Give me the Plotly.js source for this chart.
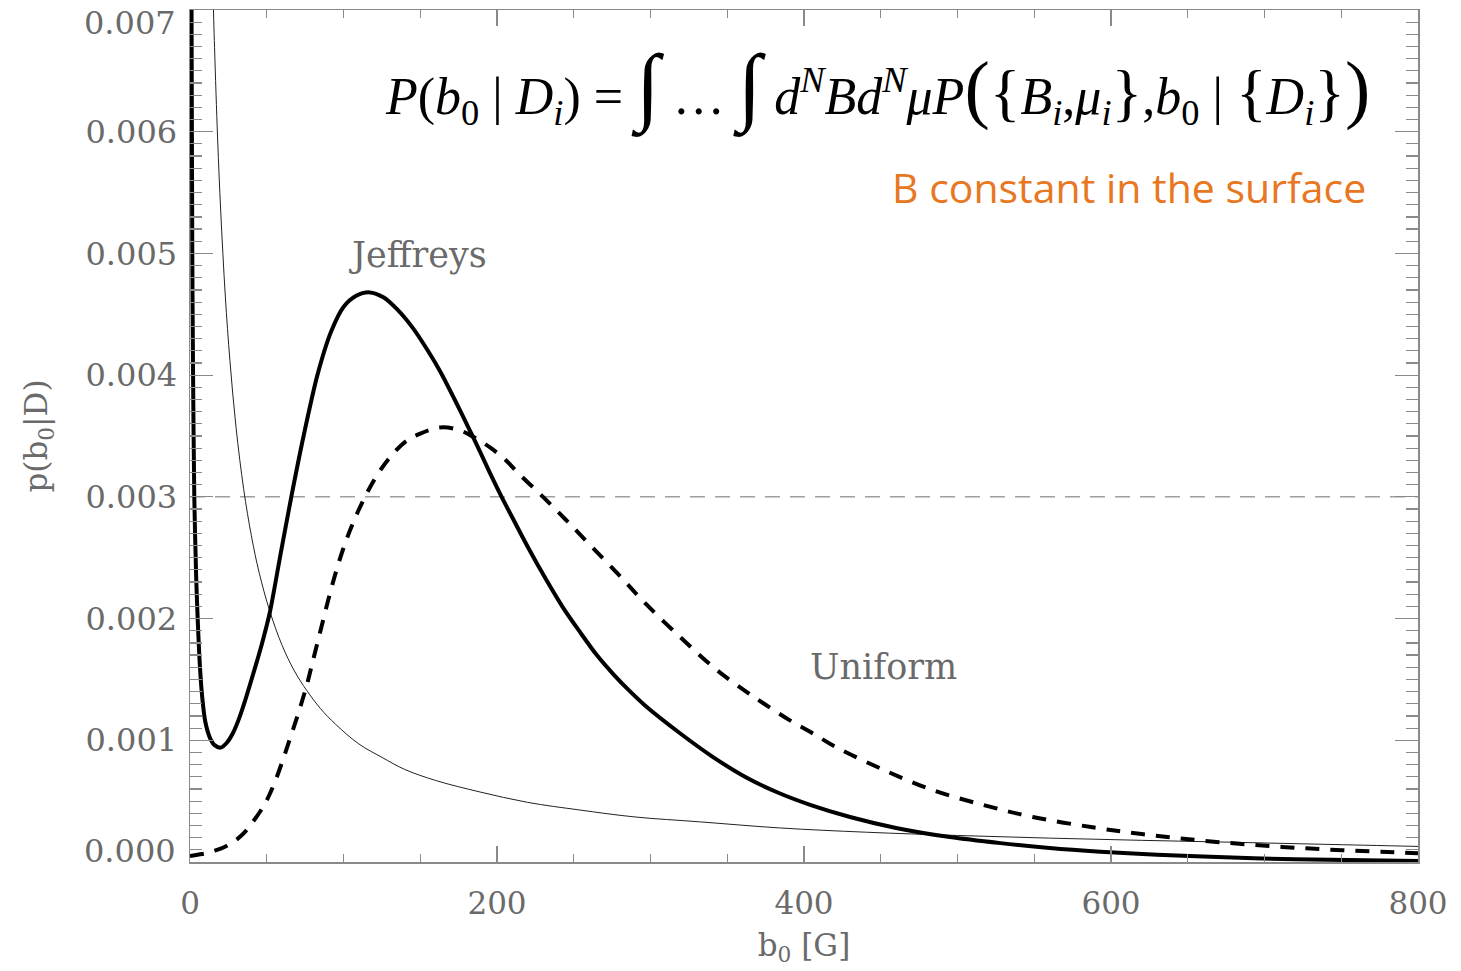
<!DOCTYPE html>
<html>
<head>
<meta charset="utf-8">
<script src="https://cdn.plot.ly/plotly-3.0.1.min.js"></script>
<style>html,body{margin:0;padding:0;background:#fff;}#chart{width:1461px;height:971px;}</style>
</head>
<body>
<div id="chart"></div>
<script>
// Jeffreys-prior posterior (thick solid)
const jeffX = [0.5, 1, 1.5, 2, 2.8, 4, 5, 6.5, 8, 10, 13, 16, 20, 24, 28, 32, 36, 42, 47, 52, 59, 66, 74, 83, 92, 100, 108, 117, 126, 135, 145, 155, 163, 172, 181, 189, 196, 203, 210, 220, 232, 243, 254, 265, 276, 286, 297, 319, 341, 363, 384, 404, 430, 460, 495, 528, 560, 593, 630, 660, 720, 800];
const jeffY = [0.0090, 0.0070, 0.0050, 0.0040, 0.0030, 0.00235, 0.0020, 0.0016, 0.00135, 0.00115, 0.00102, 0.00096, 0.00094, 0.00098, 0.00106, 0.00118, 0.00133, 0.00158, 0.00180, 0.00205, 0.00253, 0.00300, 0.00350, 0.00400, 0.00436, 0.00456, 0.00465, 0.00468, 0.00464, 0.00454, 0.00439, 0.00420, 0.00403, 0.00381, 0.00358, 0.00337, 0.00318, 0.00300, 0.00283, 0.00259, 0.00232, 0.00209, 0.00189, 0.00170, 0.00154, 0.00141, 0.00128, 0.00106, 0.00086, 0.00069, 0.000565, 0.00047, 0.00037, 0.00028, 0.000205, 0.000155, 0.000115, 0.000085, 0.00006, 0.000045, 0.000022, 0.000008];

// Uniform-prior posterior (thick dashed)
const unifX = [0, 5, 10, 15, 20, 25, 30, 36, 41, 48, 52, 56, 60, 64, 70, 76, 80, 85, 90, 95, 100, 106, 114, 122, 130, 140, 150, 163, 175, 185, 195, 205, 215, 230, 245, 261, 280, 297, 320, 341, 360, 374, 390, 404, 420, 452, 484, 517, 549, 588, 620, 667, 727, 790, 800];
const unifY = [0.00005, 0.00006, 0.00007, 0.00009, 0.00011, 0.00014, 0.00018, 0.00025, 0.00033, 0.00046, 0.00056, 0.00068, 0.00082, 0.00097, 0.00120, 0.00145, 0.00165, 0.00190, 0.00215, 0.00238, 0.00258, 0.00278, 0.00300, 0.00318, 0.00332, 0.00345, 0.00352, 0.00357, 0.00355, 0.00349, 0.00341, 0.00331, 0.00318, 0.00300, 0.00281, 0.00260, 0.00235, 0.00212, 0.00184, 0.00160, 0.00142, 0.00130, 0.00117, 0.00107, 0.00095, 0.000756, 0.00059, 0.000468, 0.00037, 0.000285, 0.00023, 0.000167, 0.000112, 0.000077, 0.000072];

// thin decaying curve
const thinX = [14, 15, 16, 18, 20, 23, 26, 30, 35, 40, 45, 52, 60, 68, 76, 85, 95, 110, 125, 140, 160, 189, 220, 254, 290, 332, 384, 440, 500, 560, 620, 680, 740, 800];
const thinY = [0.00764, 0.00713, 0.00669, 0.00594, 0.00535, 0.00465, 0.00412, 0.00357, 0.00306, 0.00268, 0.00238, 0.00206, 0.00178, 0.00157, 0.00141, 0.00126, 0.00113, 0.00097, 0.00086, 0.00076, 0.00067, 0.000575, 0.00049, 0.000427, 0.00037, 0.00033, 0.00028, 0.000245, 0.000218, 0.000196, 0.000178, 0.000162, 0.000145, 0.000128];

// reference level
const refLevel = 0.003;
const xRange = [0, 800];
const yRange = [0, 0.007];
const yTickVals = [0, 0.001, 0.002, 0.003, 0.004, 0.005, 0.006, 0.007];
const yTickText = ["", "0.001", "0.002", "0.003", "0.004", "0.005", "0.006", ""];
const yEdgeLabels = ["0.000", "0.007"];
const xTickVals = [0, 200, 400, 600, 800];

const gray = '#6a6a6a';
const axisGray = '#8a8a8a';
const serif = 'DejaVu Serif, serif';

const traces = [
  {x: xRange, y: [refLevel, refLevel], mode: 'lines', line: {color: '#a0a0a0', width: 1.5, dash: '15px,10px'}, hoverinfo: 'skip'},
  {x: thinX, y: thinY, mode: 'lines', line: {color: '#222', width: 1, shape: 'spline', smoothing: 1}},
  {x: unifX, y: unifY, mode: 'lines', line: {color: '#000', width: 4, dash: '14px,11px', shape: 'spline', smoothing: 1}},
  {x: jeffX, y: jeffY, mode: 'lines', line: {color: '#000', width: 4, shape: 'spline', smoothing: 0.8}}
];

const eq = '<i>P</i>(<i>b</i><sub>0</sub> | <i>D<sub>i</sub></i>) = ' +
  '<span style="font-size:86px">∫</span> … <span style="font-size:86px">∫</span> ' +
  '<i>d<sup>N</sup>Bd<sup>N</sup>μP</i>' +
  '<span style="font-size:76px">(</span><span style="font-size:64px">{</span><i>B<sub>i</sub></i>,<i>μ<sub>i</sub></i><span style="font-size:64px">}</span>,<i>b</i><sub>0</sub> | ' +
  '<span style="font-size:64px">{</span><i>D<sub>i</sub></i><span style="font-size:64px">}</span><span style="font-size:76px">)</span>';

const layout = {
  width: 1461, height: 971,
  margin: {l: 190, r: 43, t: 10, b: 109},
  paper_bgcolor: '#fff', plot_bgcolor: '#fff',
  showlegend: false,
  xaxis: {
    range: xRange, tickvals: xTickVals, ticks: 'inside', ticklen: 16, tickwidth: 1.2, tickcolor: axisGray,
    minor: {dtick: 50, ticks: 'inside', ticklen: 8, tickwidth: 1.2, tickcolor: axisGray},
    showline: true, linecolor: axisGray, linewidth: 1.5, mirror: 'allticks', showgrid: false, zeroline: false,
    tickfont: {family: serif, size: 31, color: gray}, ticklabelstandoff: 13,
    title: {text: 'b<sub>0</sub> [G]', font: {family: serif, size: 31, color: gray}, standoff: 14}
  },
  yaxis: {
    range: yRange, tickvals: yTickVals, ticktext: yTickText, ticks: 'inside', ticklen: 23, tickwidth: 1.2, tickcolor: axisGray,
    minor: {dtick: 0.0001, ticks: 'inside', ticklen: 12, tickwidth: 1.2, tickcolor: axisGray},
    showline: true, linecolor: axisGray, linewidth: 1.5, mirror: 'allticks', showgrid: false, zeroline: false,
    tickfont: {family: serif, size: 32, color: gray}, ticklabelstandoff: 5,
    title: {text: 'p(b<sub>0</sub>|D)', font: {family: serif, size: 31, color: gray}, standoff: 28}
  },
  annotations: [
    {xref: 'paper', yref: 'paper', x: 0, y: 0, xanchor: 'right', yanchor: 'middle', xshift: -12, yshift: 11,
     text: yEdgeLabels[0], showarrow: false, font: {family: serif, size: 32, color: gray}},
    {xref: 'paper', yref: 'paper', x: 0, y: 1, xanchor: 'right', yanchor: 'middle', xshift: -12, yshift: -13,
     text: yEdgeLabels[1], showarrow: false, font: {family: serif, size: 32, color: gray}},
    {xref: 'x', yref: 'y', x: 148.5, y: 0.00499, text: 'Jeffreys', showarrow: false,
     font: {family: serif, size: 35, color: gray}, xanchor: 'center', yanchor: 'middle'},
    {xref: 'x', yref: 'y', x: 452, y: 0.00160, text: 'Uniform', showarrow: false,
     font: {family: serif, size: 35, color: gray}, xanchor: 'center', yanchor: 'middle'},
    {xref: 'paper', yref: 'paper', x: 0.9625, y: 0.909, xanchor: 'right', yanchor: 'middle', showarrow: false,
     font: {family: 'Liberation Serif, serif', size: 52, color: '#000'}, text: eq},
    {xref: 'paper', yref: 'paper', x: 0.9595, y: 0.792, xanchor: 'right', yanchor: 'middle', showarrow: false,
     text: 'B constant in the surface', font: {family: 'Open Sans, sans-serif', size: 41, color: '#E87722'}}
  ]
};

Plotly.newPlot('chart', traces, layout, {displayModeBar: false, staticPlot: true});
</script>
</body>
</html>
